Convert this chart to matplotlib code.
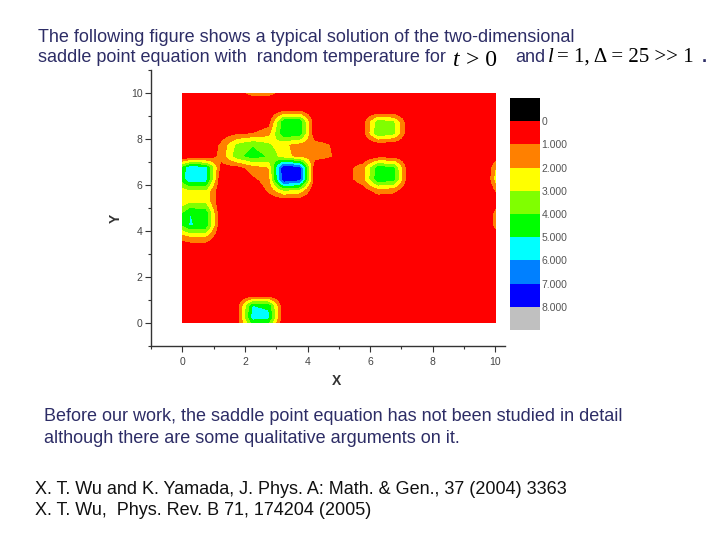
import numpy as np
import matplotlib
matplotlib.use('Agg')
import matplotlib.pyplot as plt
from matplotlib.colors import ListedColormap, BoundaryNorm
from matplotlib.patches import Rectangle
from matplotlib.ticker import MultipleLocator

plt.rcParams['font.family'] = ['Liberation Sans', 'DejaVu Sans']

# ---- data: field values on a 0.5-spaced cell grid (unlisted cells are 0) ----
grid_x = np.arange(-0.25, 10.5, 0.5)
grid_y = np.arange(-0.25, 10.5, 0.5)

cell_x = [
    # blob at left, y~6.5
    -0.25, -0.25, 0.25, 0.75, 0.25, 0.75,
    # between the two left blobs
    -0.25, 0.25, 0.75, -0.25, 0.25, 0.75,
    # blob at left, y~4.5
    -0.25, 0.25, 0.75, -0.25, 0.25, 0.75, -0.25, 0.25, 0.75,
    # upper cluster
    1.25, 1.75, 2.25, 2.75, 3.25, 3.75,
    2.75, 3.25, 3.75,
    3.25, 3.75,
    1.25, 1.75, 2.25, 2.75, 3.25, 3.75, 4.25, 4.75,
    1.25, 1.75, 2.25, 2.75, 3.25, 3.75, 4.25, 4.75,
    1.25, 1.75, 2.25, 2.75, 3.25, 3.75,
    2.25, 2.75, 3.25, 3.75,
    2.75, 3.25, 3.75,
    # blob (6.5, 8.5)
    5.75, 6.25, 6.75, 5.75, 6.25, 6.75, 6.25, 6.75,
    # blob (6.5, 6.5)
    5.25, 5.75, 6.25, 6.75, 5.25, 5.75, 6.25, 6.75, 6.25, 6.75, 5.75, 6.25, 6.75,
    # blob at bottom
    1.75, 2.25, 2.75, 1.75, 2.25, 2.75, 1.75, 2.25, 2.75,
    # top edge strip
    2.25, 2.75,
    # right edge
    9.75, 9.75, 10.25, 10.25, 10.25, 10.25, 10.25, 10.25, 10.25, 10.25,
]
cell_y = [
    6.25, 6.75, 6.25, 6.25, 6.75, 6.75,
    5.75, 5.75, 5.75, 5.25, 5.25, 5.25,
    4.75, 4.75, 4.75, 4.25, 4.25, 4.25, 3.75, 3.75, 3.75,
    8.25, 8.25, 8.25, 8.25, 8.25, 8.25,
    8.75, 8.75, 8.75,
    9.25, 9.25,
    7.75, 7.75, 7.75, 7.75, 7.75, 7.75, 7.75, 7.75,
    7.25, 7.25, 7.25, 7.25, 7.25, 7.25, 7.25, 7.25,
    6.75, 6.75, 6.75, 6.75, 6.75, 6.75,
    6.25, 6.25, 6.25, 6.25,
    5.75, 5.75, 5.75,
    8.25, 8.25, 8.25, 8.75, 8.75, 8.75, 7.75, 7.75,
    6.25, 6.25, 6.25, 6.25, 6.75, 6.75, 6.75, 6.75, 7.25, 7.25, 5.75, 5.75, 5.75,
    0.25, 0.25, 0.25, 0.75, 0.75, 0.75, -0.25, -0.25, -0.25,
    10.25, 10.25,
    6.25, 6.75, 7.25, 6.75, 6.25, 5.75, 5.25, 4.75, 4.25, 3.75,
]
cell_v = [
    3.0, 2.8, 5.8, 5.6, 5.8, 5.5,
    2.0, 2.9, 2.9, 2.0, 2.9, 2.9,
    3.0, 5.0, 4.8, 3.0, 5.05, 4.8, 1.0, 2.0, 2.0,
    0.4, 0.8, 1.0, 1.6, 4.8, 4.8,
    0.5, 4.8, 4.8,
    0.8, 0.8,
    1.2, 3.2, 3.9, 3.2, 2.2, 1.6, 1.5, 0.95,
    1.4, 3.6, 4.5, 3.9, 2.4, 1.6, 1.5, 1.05,
    0.6, 0.6, 1.5, 2.0, 8.0, 7.4,
    0.8, 1.5, 8.0, 7.4,
    1.2, 3.0, 2.6,
    0.5, 3.9, 3.3, 0.5, 3.6, 3.1, 0.4, 0.3,
    0.6, 1.6, 4.8, 4.4, 0.6, 1.6, 4.6, 4.2, 0.6, 0.6, 0.4, 1.5, 1.3,
    0.5, 5.5, 5.3, 0.4, 5.0, 4.8, 0.3, 3.0, 2.8,
    3.9, 3.9,
    0.4, 0.4, 0.8, 3.6, 4.6, 2.3, 1.0, 3.0, 3.0, 0.6,
]

level_bounds = [-1, 0, 1, 2, 3, 4, 5, 6, 7, 8, 9]
level_colors = ['#000000', '#FF0000', '#FF8000', '#FFFF00', '#80FF00',
                '#00FF00', '#00FFFF', '#0080FF', '#0000FF', '#C0C0C0']
level_ticks = [0, 1, 2, 3, 4, 5, 6, 7, 8]
level_labels = ['0', '1.000', '2.000', '3.000', '4.000', '5.000',
                '6.000', '7.000', '8.000']

x_ticks = [0, 2, 4, 6, 8, 10]
y_ticks = [0, 2, 4, 6, 8, 10]

# ---- build field ----
Z = np.zeros((len(grid_y), len(grid_x)))
for cx, cy, cv in zip(cell_x, cell_y, cell_v):
    i = int(np.argmin(np.abs(grid_y - cy)))
    j = int(np.argmin(np.abs(grid_x - cx)))
    Z[i, j] = cv

fig = plt.figure(figsize=(7.2, 5.4), dpi=100)
W, H = 720.0, 540.0

ax = fig.add_axes([151 / W, 1 - 346 / H, (504.7 - 151) / W, 276 / H])
cmap = ListedColormap(level_colors)
norm = BoundaryNorm(level_bounds, cmap.N)
half = 0.25
im = ax.imshow(Z, origin='lower',
               extent=[grid_x[0] - half, grid_x[-1] + half, grid_y[0] - half, grid_y[-1] + half],
               cmap=cmap, norm=norm, interpolation='bilinear',
               interpolation_stage='data', aspect='auto')
clip = Rectangle((0, 0), 10, 10, transform=ax.transData)
im.set_clip_path(clip)

ax.set_xlim(-1, 10.3)
ax.set_ylim(-1, 11)
ax.set_xticks(x_ticks)
ax.set_yticks(y_ticks)
ax.xaxis.set_minor_locator(MultipleLocator(1))
ax.yaxis.set_minor_locator(MultipleLocator(1))
for s in ['top', 'right']:
    ax.spines[s].set_visible(False)
for s in ['left', 'bottom']:
    ax.spines[s].set_color('#333333')
    ax.spines[s].set_linewidth(1.0)
ax.tick_params(which='major', direction='out', length=4, width=0.8, color='#333333',
               labelsize=7.5, labelcolor='#444444', pad=2)
ax.tick_params(which='minor', direction='out', length=2.5, width=0.8, color='#333333')
ax.tick_params(axis='x', which='major', pad=4)

fig.text(337 / W, 1 - 381 / H, 'X', fontsize=10, fontweight='bold', color='#333333',
         ha='center', va='center')
fig.text(116 / W, 1 - 218 / H, 'Y', fontsize=10, fontweight='bold', color='#333333',
         ha='center', va='center', rotation=90)

# colorbar (low values at top, as in the original)
cax = fig.add_axes([510 / W, 1 - 330 / H, 30 / W, 232 / H])
cb = fig.colorbar(im, cax=cax, ticks=level_ticks)
cb.outline.set_visible(False)
cb.set_ticklabels(level_labels)
cax.minorticks_off()
cax.invert_yaxis()
cax.tick_params(length=0, labelsize=7.5, labelcolor='#555555', pad=1)

# slide text
navy = '#2D2D66'
fs = 13
fig.text(38 / W, 1 - 42 / H, 'The following figure shows a typical solution of the two-dimensional',
         fontsize=fs, color=navy, va='baseline')
fig.text(38 / W, 1 - 62 / H, 'saddle point equation with  random temperature for',
         fontsize=fs, color=navy, va='baseline')
fig.text(453 / W, 1 - 66 / H, 't', fontsize=17, family='Liberation Serif', style='italic',
         color='black', va='baseline')
fig.text(466 / W, 1 - 66 / H, '> 0', fontsize=17, family='Liberation Serif',
         color='black', va='baseline')
fig.text(515 / W, 1 - 62 / H, 'and', fontsize=fs, color=navy, va='baseline')
fig.text(548 / W, 1 - 62 / H, 'l', fontsize=15, family='Liberation Serif', style='italic',
         color='black', va='baseline')
fig.text(557 / W, 1 - 62 / H, '= 1, \u0394 = 25 >> 1', fontsize=15, family='Liberation Serif',
         color='black', va='baseline')
fig.text(702 / W, 1 - 62 / H, '.', fontsize=fs, fontweight='bold', color=navy, va='baseline')

fig.text(44 / W, 1 - 421 / H,
         'Before our work, the saddle point equation has not been studied in detail',
         fontsize=fs, color=navy, va='baseline')
fig.text(44 / W, 1 - 443 / H,
         'although there are some qualitative arguments on it.',
         fontsize=fs, color=navy, va='baseline')
fig.text(35 / W, 1 - 494 / H,
         'X. T. Wu and K. Yamada, J. Phys. A: Math. & Gen., 37 (2004) 3363',
         fontsize=fs, color='#111111', va='baseline')
fig.text(35 / W, 1 - 515 / H,
         'X. T. Wu,  Phys. Rev. B 71, 174204 (2005)',
         fontsize=fs, color='#111111', va='baseline')

fig.savefig('out.png', dpi=100, facecolor='white')
